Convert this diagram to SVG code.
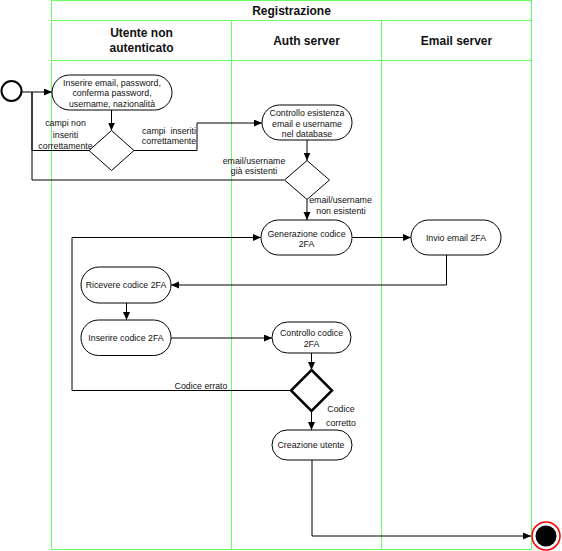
<svg xmlns="http://www.w3.org/2000/svg" width="562" height="551" viewBox="0 0 562 551">
  <defs>
    <marker id="arrow" markerUnits="userSpaceOnUse" markerWidth="9" markerHeight="8" refX="8" refY="3.5" orient="auto">
      <path d="M0,0 L8,3.5 L0,7 Z" fill="#000"/>
    </marker>
    <style>
      .lane { fill: none; stroke: #66ff66; stroke-width: 1; }
      .head { font-family: "Liberation Sans", Arial, sans-serif; font-size: 12px; font-weight: bold; fill: #111; text-anchor: middle; }
      .node rect, .node path { fill: #fff; stroke: #000; stroke-width: 1; }
      .txt { font-family: "Liberation Sans", Arial, sans-serif; font-size: 8.8px; fill: #111; text-anchor: middle; }
      .edge { fill: none; stroke: #000; stroke-width: 1; }
      .arr { marker-end: url(#arrow); }
    </style>
  </defs>

  <!-- swimlane pool -->
  <g id="pool">
    <rect class="lane" x="51.5" y="0.5" width="480" height="549"/>
    <line class="lane" x1="51.5" y1="20.5" x2="531.5" y2="20.5"/>
    <line class="lane" x1="51.5" y1="60.5" x2="531.5" y2="60.5"/>
    <line class="lane" x1="231.5" y1="20.5" x2="231.5" y2="549.5"/>
    <line class="lane" x1="381.5" y1="20.5" x2="381.5" y2="549.5"/>
    <text class="head" x="291.5" y="14.5">Registrazione</text>
    <text class="head" x="141.5" y="37">Utente non</text>
    <text class="head" x="141.5" y="52">autenticato</text>
    <text class="head" x="306.5" y="45">Auth server</text>
    <text class="head" x="456.5" y="45">Email server</text>
  </g>

  <!-- connectors -->
  <g id="connectors">
    <path class="edge arr" d="M21.5,92 L52,92"/>
    <path class="edge" d="M89,150.5 L32,150.5 L32,92"/>
    <path class="edge" d="M284,180 L32,180 L32,92"/>
    <path class="edge arr" d="M111.5,110 L111.5,130.5"/>
    <path class="edge arr" d="M134,150.5 L197,150.5 L197,123 L262,123"/>
    <path class="edge arr" d="M307,140 L307,160.5"/>
    <path class="edge arr" d="M307,199.5 L307,220"/>
    <path class="edge arr" d="M352,237.5 L411,237.5"/>
    <path class="edge arr" d="M446.5,255 L446.5,285 L171,285"/>
    <path class="edge arr" d="M126.5,303 L126.5,320"/>
    <path class="edge arr" d="M171,338 L272,338"/>
    <path class="edge arr" d="M311.5,353 L311.5,370"/>
    <path class="edge arr" d="M291,390.5 L72,390.5 L72,237.5 L261,237.5"/>
    <path class="edge arr" d="M311.5,411 L311.5,430"/>
    <path class="edge arr" d="M312,460 L312,536 L531,536"/>

    <text class="txt" x="65.5" y="126">campi non</text>
    <text class="txt" x="65.5" y="138">inseriti</text>
    <text class="txt" x="65.5" y="149">correttamente</text>
    <text class="txt" x="169" y="133.5" xml:space="preserve">campi  inseriti</text>
    <text class="txt" x="169" y="144">correttamente</text>
    <text class="txt" x="254" y="163.5">email/username</text>
    <text class="txt" x="254" y="174">già esistenti</text>
    <text class="txt" x="340.5" y="203">email/username</text>
    <text class="txt" x="341" y="213.5">non esistenti</text>
    <text class="txt" x="201" y="388.5">Codice errato</text>
    <text class="txt" x="341" y="412">Codice</text>
    <text class="txt" x="341" y="426">corretto</text>
  </g>

  <!-- start / end -->
  <g id="start">
    <circle cx="11.5" cy="91" r="10" fill="#fff" stroke="#000" stroke-width="2"/>
  </g>
  <g id="end">
    <circle cx="546" cy="536" r="14" fill="#fff" stroke="#ff0000" stroke-width="1.5"/>
    <circle cx="546" cy="536" r="10.5" fill="#000"/>
  </g>

  <!-- activities -->
  <g id="inserire-dati" class="node">
    <rect x="52" y="75" width="120" height="35" rx="17.5"/>
    <text class="txt" x="112" y="85.5">Inserire email, password,</text>
    <text class="txt" x="112" y="96">conferma password,</text>
    <text class="txt" x="112" y="106.5">username, nazionalità</text>
  </g>
  <g id="check-campi" class="node">
    <path d="M111.5,130.5 L134,150.5 L111.5,170.5 L89,150.5 Z"/>
  </g>
  <g id="controllo-esistenza" class="node">
    <rect x="262" y="105" width="90" height="35" rx="17.5"/>
    <text class="txt" x="307" y="116">Controllo esistenza</text>
    <text class="txt" x="307" y="126.5">email e username</text>
    <text class="txt" x="307" y="136.5">nel database</text>
  </g>
  <g id="check-esistenza" class="node">
    <path d="M307,160.5 L329.5,180 L307,199.5 L284.5,180 Z"/>
  </g>
  <g id="generazione-codice" class="node">
    <rect x="261" y="220" width="91" height="35" rx="17.5"/>
    <text class="txt" x="306.5" y="236.5">Generazione codice</text>
    <text class="txt" x="306.5" y="247">2FA</text>
  </g>
  <g id="invio-email" class="node">
    <rect x="411" y="220" width="90" height="35" rx="17.5"/>
    <text class="txt" x="456" y="240.5">Invio email 2FA</text>
  </g>
  <g id="ricevere-codice" class="node">
    <rect x="81" y="267" width="90" height="36" rx="18"/>
    <text class="txt" x="126" y="288">Ricevere codice 2FA</text>
  </g>
  <g id="inserire-codice" class="node">
    <rect x="81" y="320" width="90" height="35.5" rx="17.5"/>
    <text class="txt" x="126" y="341">Inserire codice 2FA</text>
  </g>
  <g id="controllo-codice" class="node">
    <rect x="272" y="322" width="79" height="31" rx="15.5"/>
    <text class="txt" x="311.5" y="335.5">Controllo codice</text>
    <text class="txt" x="311.5" y="347">2FA</text>
  </g>
  <g id="check-codice" class="node">
    <path d="M311.5,370 L332,390.5 L311.5,411 L291,390.5 Z" style="stroke-width:2.5"/>
  </g>
  <g id="creazione-utente" class="node">
    <rect x="272" y="430" width="80" height="30" rx="15"/>
    <text class="txt" x="311" y="448">Creazione utente</text>
  </g>
</svg>
